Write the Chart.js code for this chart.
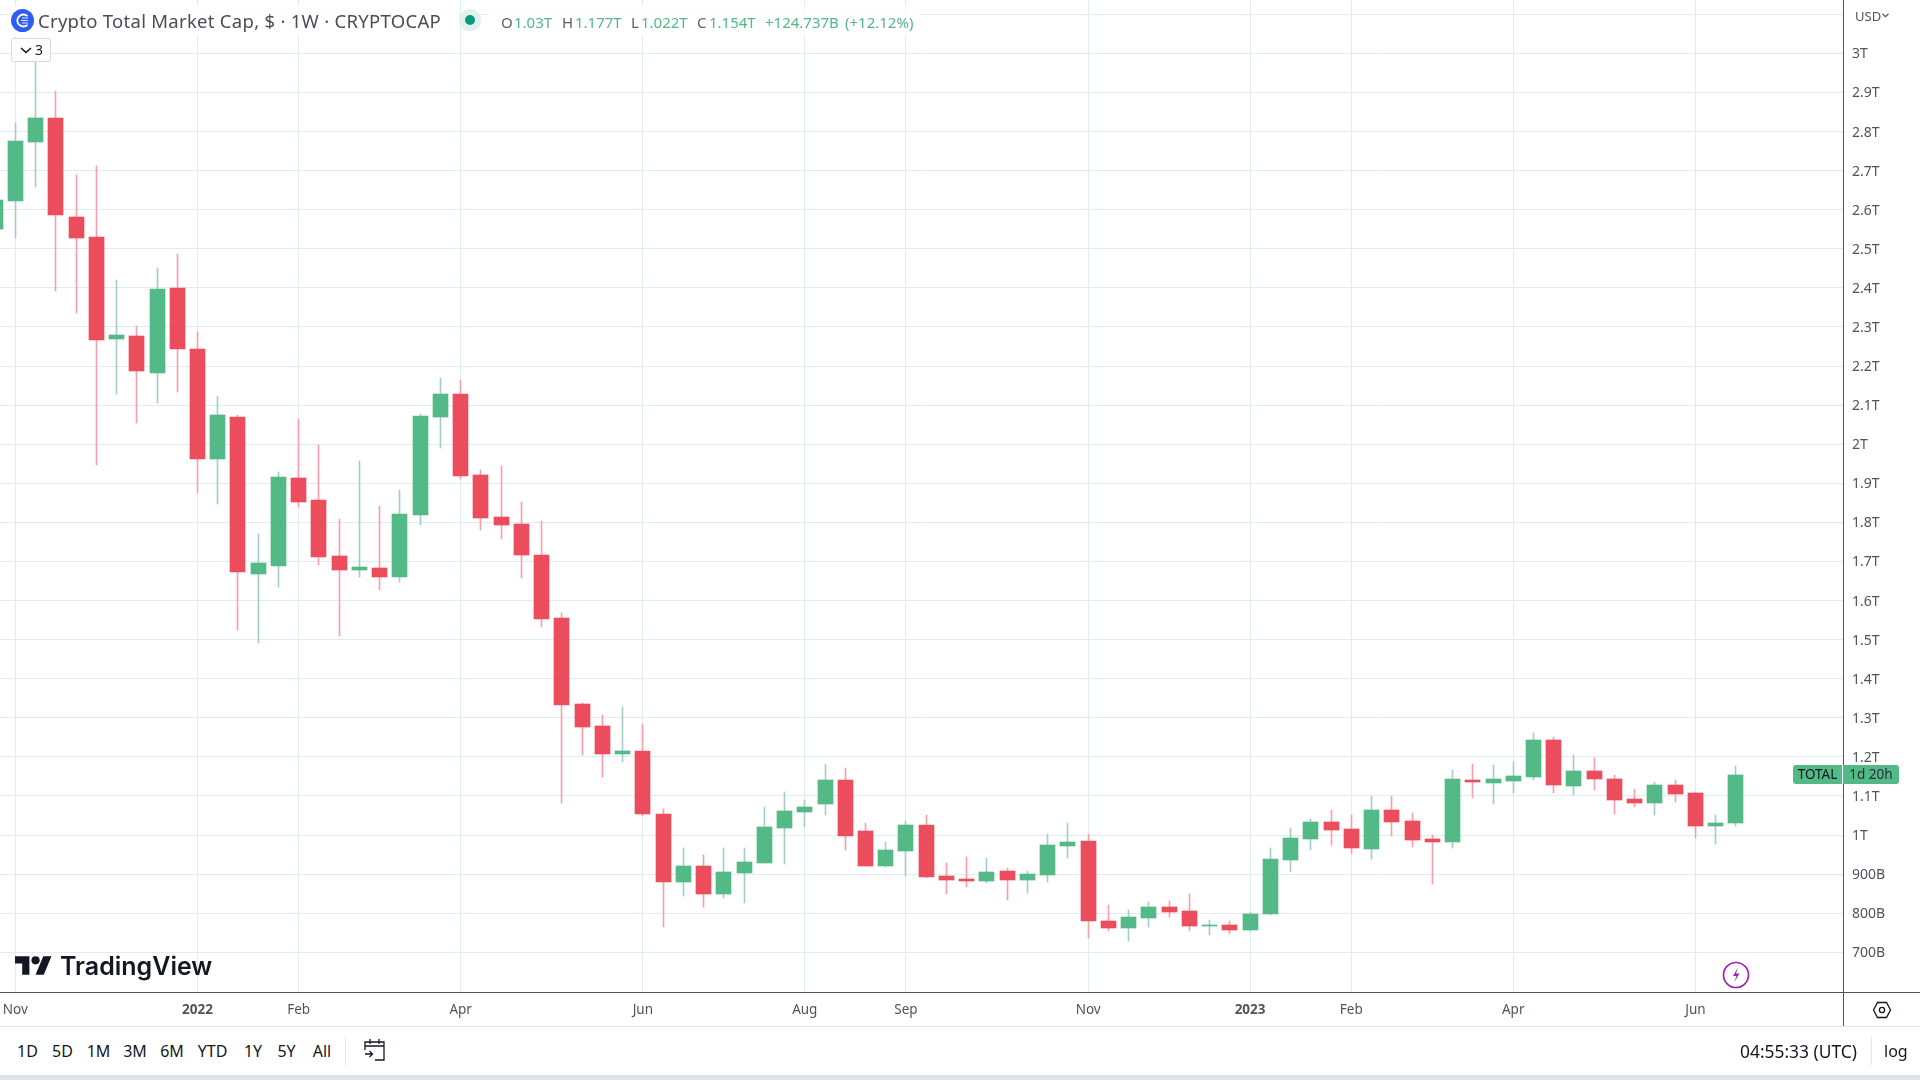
<!DOCTYPE html>
<html>
<head>
<meta charset="utf-8">
<title>Crypto Total Market Cap</title>
<script src="https://cdn.jsdelivr.net/npm/chart.js@4/dist/chart.umd.min.js"></script>
<style>
    html, body { margin: 0; padding: 0; background: #fff; }
    body { width: 1920px; height: 1080px; overflow: hidden; position: relative; font-family: "Noto Sans", sans-serif; color: #131722; }
    #chart { position: absolute; left: 0; top: 0; }
    .abs { position: absolute; white-space: nowrap; }
    .line { position: absolute; background: #50535e; }
    .legend-bg { position: absolute; left: 8px; top: 6px; height: 30px; background: rgba(255,255,255,.75); }
    .ohlc span { position: absolute; top: 0; white-space: nowrap; }
    .ohlc .k { color: #5d606b; }
    .ohlc .v { color: #53b987; }
    .range { position: absolute; top: 1039px; font-size: 16px; line-height: 24px; transform: translateX(-50%); color: #131722; }
</style>
</head>
<body>
<canvas id="chart" width="1920" height="1026"></canvas>

<div class="legend-bg" style="width:450px"></div>
<div class="legend-bg" style="left:488px;width:432px"></div>

<svg class="abs" style="left:11px;top:9px" width="23" height="23" viewBox="0 0 23 23">
    <circle cx="11.5" cy="11.5" r="11.5" fill="#2f5cf5"/>
    <path d="M16.5 7.2a6 6 0 1 0 0 8.6" fill="none" stroke="#fff" stroke-width="1.8"/>
    <path d="M11 9h6M10 11.5h7M11 14h6" stroke="#dfe6ff" stroke-width="1.2"/>
</svg>
<div class="abs" id="title" style="left:38px;top:8px;font-size:18.5px;letter-spacing:.28px;line-height:26px;color:#4a4d57">Crypto Total Market Cap, $ · 1W · CRYPTOCAP</div>

<svg class="abs" style="left:459px;top:9px" width="22" height="22" viewBox="0 0 22 22">
    <circle cx="11" cy="11" r="11" fill="#dff2ee"/>
    <circle cx="11" cy="11" r="5" fill="#0a9a7d"/>
</svg>

<div class="abs ohlc" style="left:0;top:11px;font-size:15px;line-height:22px">
    <span class="k" style="left:501px">O</span><span class="v" style="left:514px">1.03T</span>
    <span class="k" style="left:562px">H</span><span class="v" style="left:575px">1.177T</span>
    <span class="k" style="left:631px">L</span><span class="v" style="left:641px">1.022T</span>
    <span class="k" style="left:697px">C</span><span class="v" style="left:709px">1.154T</span>
    <span class="v" style="left:765px">+124.737B</span><span class="v" style="left:845px">(+12.12%)</span>
</div>

<div class="abs" style="left:11px;top:38px;width:38px;height:22px;border:1px solid #d6d8e0;border-radius:3px;background:rgba(255,255,255,.85);font-size:14px;line-height:22px;color:#131722">
    <svg style="position:absolute;left:8px;top:8px" width="12" height="7" viewBox="0 0 12 7"><path d="M1 1l5 4.5L11 1" fill="none" stroke="#131722" stroke-width="1.6"/></svg>
    <span style="position:absolute;left:23px;top:0">3</span>
</div>

<!-- axis frame -->
<div class="line" style="left:0;top:992px;width:1920px;height:1px"></div>
<div class="line" style="left:1843px;top:0;width:1px;height:1026px"></div>
<div class="abs" style="left:0;top:1026px;width:1920px;height:1px;background:#e0e3eb"></div>
<div class="abs" style="left:0;top:1075px;width:1920px;height:5px;background:#e0e3eb"></div>

<div class="abs" style="left:1855px;top:6px;font-size:13px;line-height:20px;color:#50535e">USD</div>
<svg class="abs" style="left:1882px;top:13px" width="7" height="5" viewBox="0 0 7 5"><path d="M.5 .8l3 2.8 3-2.8" fill="none" stroke="#50535e" stroke-width="1.2"/></svg>

<!-- last price label -->
<div class="abs" style="left:1793px;top:765px;width:49px;height:19px;background:#53b987;border-radius:3px 0 0 3px;font-size:13.5px;line-height:19px;text-align:center;color:#131722">TOTAL</div>
<div class="abs" style="left:1843px;top:765px;width:56px;height:19px;background:#53b987;border-radius:0 3px 3px 0;font-size:13.5px;line-height:19px;text-align:center;color:#2a2e39">1d 20h</div>

<!-- tradingview mark -->
<svg class="abs" style="left:15px;top:956px" width="37" height="19" viewBox="0 4 36 18">
    <path d="M14 22H7V11H0V4h14v18zM28 22h-8l7.5-18h8L28 22z" fill="#131722"/>
    <circle cx="20" cy="8" r="4" fill="#131722"/>
</svg>
<div class="abs" style="left:60px;top:949px;font-family:Inter,sans-serif;font-weight:600;font-size:25px;line-height:34px;letter-spacing:0;color:#131722">TradingView</div>

<!-- lightning badge -->
<svg class="abs" style="left:1722px;top:961px" width="28" height="28" viewBox="0 0 28 28">
    <circle cx="14" cy="14" r="12.5" fill="#fff" stroke="#9c27b0" stroke-width="1.7"/>
    <path d="M16 6.5l-5 8.5h3.5l-2.5 6.5 5.5-9h-3.5z" fill="#9c27b0"/>
</svg>

<!-- settings -->
<svg class="abs" style="left:1872px;top:1000px" width="20" height="20" viewBox="0 0 20 20">
    <path d="M5.5 2.5h9L18.5 10l-4 7.5h-9L1.5 10z" fill="none" stroke="#131722" stroke-width="1.3"/>
    <circle cx="10" cy="10" r="2.6" fill="none" stroke="#131722" stroke-width="1.3"/>
</svg>

<!-- bottom toolbar -->
<div class="range" style="left:27.5px">1D</div>
<div class="range" style="left:62.5px">5D</div>
<div class="range" style="left:98.5px">1M</div>
<div class="range" style="left:135px">3M</div>
<div class="range" style="left:172px">6M</div>
<div class="range" style="left:212.5px">YTD</div>
<div class="range" style="left:253px">1Y</div>
<div class="range" style="left:286.5px">5Y</div>
<div class="range" style="left:322px">All</div>
<div class="abs" style="left:345px;top:1037px;width:1px;height:28px;background:#e0e3eb"></div>
<svg class="abs" style="left:362px;top:1037px" width="25" height="25" viewBox="0 0 25 25">
    <path d="M3 9V5h19v18h-9M3 9h19M3 13V9M8 2v5M17 2v5M3 17h7M7.5 14l3 3-3 3" fill="none" stroke="#131722" stroke-width="1.3"/>
</svg>
<div class="abs" style="left:1740px;top:1039px;font-size:17.4px;line-height:24px;color:#131722">04:55:33 (UTC)</div>
<div class="abs" style="left:1871px;top:1037px;width:1px;height:28px;background:#e0e3eb"></div>
<div class="abs" style="left:1884px;top:1039px;font-size:16px;line-height:24px;color:#131722">log</div>

<script>
// 週足データ (単位: 兆ドル) 先頭は左端で切れている足
const opens = [
    2.551, 2.622, 2.773, 2.835, 2.581, 2.530, 2.269, 2.277, 2.182, 2.400,
    2.244, 1.962, 2.070, 1.668, 1.688, 1.913, 1.857, 1.714, 1.678, 1.683,
    1.660, 1.819, 2.070, 2.128, 1.921, 1.814, 1.796, 1.716, 1.555, 1.335,
    1.279, 1.207, 1.215, 1.054, 0.880, 0.921, 0.849, 0.903, 0.928, 1.018,
    1.059, 1.079, 1.141, 1.010, 0.921, 0.959, 1.026, 0.895, 0.887, 0.882,
    0.908, 0.885, 0.898, 0.972, 0.985, 0.780, 0.762, 0.788, 0.816, 0.805,
    0.767, 0.770, 0.757, 0.798, 0.936, 0.990, 1.033, 1.015, 0.964, 1.064,
    1.036, 0.990, 0.982, 1.141, 1.133, 1.138, 1.148, 1.243, 1.125, 1.164,
    1.143, 1.092, 1.082, 1.128, 1.107, 1.023, 1.030
];
const closes = [
    2.625, 2.776, 2.835, 2.587, 2.528, 2.267, 2.279, 2.187, 2.397, 2.244,
    1.962, 2.075, 1.673, 1.696, 1.916, 1.852, 1.711, 1.678, 1.686, 1.660,
    1.821, 2.072, 2.128, 1.919, 1.811, 1.793, 1.716, 1.553, 1.333, 1.276,
    1.207, 1.215, 1.054, 0.880, 0.921, 0.849, 0.905, 0.931, 1.021, 1.061,
    1.072, 1.141, 0.997, 0.921, 0.962, 1.026, 0.893, 0.885, 0.882, 0.905,
    0.885, 0.900, 0.974, 0.982, 0.780, 0.762, 0.790, 0.816, 0.803, 0.767,
    0.770, 0.757, 0.798, 0.939, 0.992, 1.033, 1.013, 0.967, 1.064, 1.033,
    0.987, 0.982, 1.143, 1.136, 1.143, 1.151, 1.243, 1.128, 1.164, 1.143,
    1.090, 1.082, 1.128, 1.105, 1.023, 1.031, 1.154
];
const highs = [
    2.650, 2.822, 3.004, 2.904, 2.689, 2.712, 2.420, 2.303, 2.451, 2.487,
    2.287, 2.123, 2.075, 1.770, 1.929, 2.064, 1.998, 1.809, 1.957, 1.842,
    1.883, 2.077, 2.169, 2.163, 1.934, 1.944, 1.852, 1.803, 1.568, 1.338,
    1.307, 1.328, 1.284, 1.067, 0.967, 0.949, 0.967, 0.967, 1.072, 1.110,
    1.090, 1.182, 1.171, 1.031, 0.982, 1.036, 1.051, 0.928, 0.944, 0.941,
    0.916, 0.908, 1.003, 1.031, 1.003, 0.821, 0.808, 0.829, 0.831, 0.849,
    0.782, 0.780, 0.803, 0.967, 1.018, 1.041, 1.064, 1.051, 1.100, 1.100,
    1.056, 1.000, 1.166, 1.182, 1.179, 1.187, 1.261, 1.251, 1.205, 1.197,
    1.154, 1.118, 1.136, 1.141, 1.110, 1.051, 1.177
];
const lows = [
    2.530, 2.528, 2.659, 2.393, 2.336, 1.947, 2.128, 2.054, 2.105, 2.134,
    1.875, 1.847, 1.525, 1.491, 1.635, 1.839, 1.691, 1.509, 1.660, 1.627,
    1.647, 1.793, 1.991, 1.911, 1.780, 1.757, 1.658, 1.532, 1.082, 1.205,
    1.148, 1.187, 1.049, 0.765, 0.844, 0.816, 0.839, 0.826, 0.928, 0.926,
    1.021, 1.051, 0.962, 0.921, 0.918, 0.895, 0.890, 0.849, 0.867, 0.877,
    0.834, 0.852, 0.880, 0.941, 0.736, 0.754, 0.729, 0.765, 0.790, 0.754,
    0.744, 0.747, 0.754, 0.795, 0.905, 0.962, 0.974, 0.951, 0.939, 0.997,
    0.969, 0.875, 0.967, 1.095, 1.079, 1.107, 1.141, 1.107, 1.102, 1.115,
    1.054, 1.072, 1.051, 1.084, 0.992, 0.977, 1.022
];

// 軸の目盛り
const xTickWeeks = [0, 9, 14, 22, 31, 39, 44, 53, 61, 66, 74, 83];
const xTickLabels = ['Nov', '2022', 'Feb', 'Apr', 'Jun', 'Aug', 'Sep', 'Nov', '2023', 'Feb', 'Apr', 'Jun'];
const yTickValues = [0.7, 0.8, 0.9, 1, 1.1, 1.2, 1.3, 1.4, 1.5, 1.6, 1.7, 1.8, 1.9, 2, 2.1, 2.2, 2.3, 2.4, 2.5, 2.6, 2.7, 2.8, 2.9, 3, 3.1];
const yTickLabels = ['700B', '800B', '900B', '1T', '1.1T', '1.2T', '1.3T', '1.4T', '1.5T', '1.6T', '1.7T', '1.8T', '1.9T', '2T', '2.1T', '2.2T', '2.3T', '2.4T', '2.5T', '2.6T', '2.7T', '2.8T', '2.9T', '3T', ''];

const UP = '#53b987';
const DOWN = '#eb4d5c';
const UP_WICK = '#a3cdcb';
const DOWN_WICK = '#f79fac';
const GRID = '#e1ecf2';
const AXIS_TEXT = '#50535e';
const FONT = '"Noto Sans", sans-serif';

const isUp = (i) => closes[i] >= opens[i];
const weekOf = (i) => i - 1;

// 足がぼやけないようにピクセル境界へ寄せる
const snapBars = {
    id: 'snapBars',
    beforeDatasetsDraw(chart) {
        chart.data.datasets.forEach((ds, idx) => {
            chart.getDatasetMeta(idx).data.forEach(el => {
                el.x = Math.floor(el.x) + 0.5;
                el.y = Math.round(el.y);
                el.base = Math.round(el.base);
            });
        });
    }
};

new Chart(document.getElementById('chart'), {
    type: 'bar',
    data: {
        datasets: [
            {
                label: 'wick',
                data: opens.map((_, i) => ({ x: weekOf(i), y: [lows[i], highs[i]] })),
                backgroundColor: opens.map((_, i) => isUp(i) ? UP_WICK : DOWN_WICK),
                barThickness: 1,
                grouped: false,
                order: 2
            },
            {
                label: 'body',
                data: opens.map((_, i) => ({ x: weekOf(i), y: [opens[i], closes[i]] })),
                backgroundColor: opens.map((_, i) => isUp(i) ? UP : DOWN),
                barThickness: 15,
                grouped: false,
                order: 1
            }
        ]
    },
    options: {
        responsive: false,
        animation: false,
        devicePixelRatio: 1,
        layout: { padding: 0 },
        plugins: { legend: { display: false }, tooltip: { enabled: false } },
        scales: {
            x: {
                type: 'linear',
                offset: false,
                min: -0.756,
                max: 90.29,
                afterBuildTicks: (scale) => { scale.ticks = xTickWeeks.map(value => ({ value })); },
                afterFit: (scale) => { scale.height = 34; scale.paddingLeft = 0; scale.paddingRight = 0; },
                grid: { color: GRID, drawTicks: false, offset: false },
                border: { display: false },
                ticks: {
                    autoSkip: false,
                    maxRotation: 0,
                    padding: 10,
                    color: AXIS_TEXT,
                    font: (ctx) => {
                        const label = xTickLabels[ctx.index];
                        return { family: FONT, size: 13.5, weight: /^\d/.test(label || '') ? 'bold' : 'normal' };
                    },
                    callback: (value, i) => xTickLabels[i]
                }
            },
            y: {
                position: 'right',
                min: 0.5983,
                max: 3.1366,
                afterBuildTicks: (scale) => { scale.ticks = yTickValues.map(value => ({ value })); },
                afterFit: (scale) => { scale.width = 77; scale.paddingTop = 0; scale.paddingBottom = 0; },
                grid: { color: GRID, drawTicks: false },
                border: { display: false },
                ticks: {
                    autoSkip: false,
                    crossAlign: 'near',
                    padding: 9,
                    labelOffset: 1,
                    color: AXIS_TEXT,
                    font: { family: FONT, size: 14 },
                    callback: (value, i) => yTickLabels[i]
                }
            }
        }
    },
    plugins: [snapBars]
});
</script>
</body>
</html>
